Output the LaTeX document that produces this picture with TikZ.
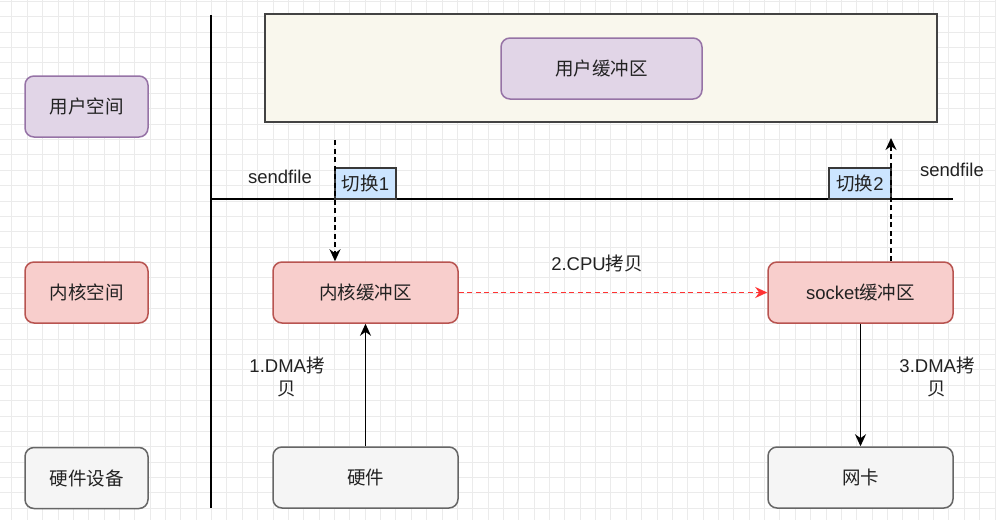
\documentclass[tikz,border=0pt]{standalone}
\usepackage{fontspec}
\setmainfont{Liberation Sans}
\newfontfamily\cjk{Noto Sans CJK SC}
\newcommand{\zh}[1]{{\cjk #1}}
\usetikzlibrary{arrows.meta}
\definecolor{gridc}{HTML}{EBEBEB}
\definecolor{txt}{HTML}{222222}
\definecolor{purf}{HTML}{E1D5E7}\definecolor{purd}{HTML}{9673A6}
\definecolor{redf}{HTML}{F8CECC}\definecolor{redd}{HTML}{B85450}
\definecolor{grf}{HTML}{F5F5F5}\definecolor{grd}{HTML}{666666}
\definecolor{cream}{HTML}{F9F7ED}
\definecolor{bluef}{HTML}{CCE5FF}
\definecolor{arrred}{HTML}{FF3333}
\tikzset{
  box/.style={rounded corners=9pt, line width=1.5pt, inner sep=0pt, minimum width=185pt, minimum height=61pt, text=txt, font=\fontsize{18.5}{22}\selectfont},
  purbox/.style={box, fill=purf, draw=purd},
  redbox/.style={box, fill=redf, draw=redd},
  grbox/.style={box, fill=grf, draw=grd},
  swbox/.style={line width=1.5pt, draw=txt!90, fill=bluef, inner sep=0pt, minimum width=61pt, minimum height=31pt, text=txt, font=\fontsize{18.5}{22}\selectfont},
  lbl/.style={text=txt, font=\fontsize{18.5}{23}\selectfont, align=center, inner sep=0pt},
  arr/.style={line width=1.7pt, -{Stealth[length=12pt,width=11pt]}},
  dsh/.style={dash pattern=on 5pt off 3.5pt},
}
\begin{document}
\begin{tikzpicture}[x=1pt,y=-1pt]
\useasboundingbox (0,0) rectangle (996,520);
\fill[white] (0,0) rectangle (996,520);
\foreach \i in {0,...,64} \draw[gridc, line width=0.9pt] (11.9+\i*15.36,0) -- (11.9+\i*15.36,520);
\foreach \j in {0,...,33} \draw[gridc, line width=0.9pt] (0,1.3+\j*15.36) -- (996,1.3+\j*15.36);
% axes
\draw[line width=1.8pt, black] (211,15) -- (211,508);
\draw[line width=1.8pt, black] (211,199) -- (953,199);
% big user box
\node[draw=txt!85, fill=cream, line width=1.5pt, minimum width=672pt, minimum height=108pt, inner sep=0pt] (big) at (601,68) {};
\node[purbox, minimum width=201pt] (ub) at (601.5,68.5) {\zh{用户缓冲区}};
% left labels
\node[purbox, minimum width=123pt] (us) at (86.5,106.5) {\zh{用户空间}};
\node[redbox, minimum width=123pt] (ks) at (86.5,292.5) {\zh{内核空间}};
\node[grbox, minimum width=123pt] (hd) at (86.5,478) {\zh{硬件设备}};
% kernel buffers
\node[redbox] (kb) at (365.5,292.5) {\zh{内核缓冲区}};
\node[redbox] (sb) at (860.5,292.5) {socket\zh{缓冲区}};
\node[grbox] (hw) at (365.5,477.5) {\zh{硬件}};
\node[grbox] (nc) at (860.5,477.5) {\zh{网卡}};
% switch boxes
\node[swbox] (sw1) at (365.5,183.5) {\zh{切换}1};
\node[swbox, minimum width=62pt] (sw2) at (860,183.5) {\zh{切换}2};
% texts
\node[lbl] (sf1) at (280,177) {sendfile};
\node[lbl] (sf2) at (952,170) {sendfile};
\node[lbl] (cpu) at (597,263) {2.CPU\zh{拷贝}};
\node[lbl] (dma1) at (287,377) {1.DMA\zh{拷}\\\zh{贝}};
\node[lbl] (dma3) at (937,377) {3.DMA\zh{拷}\\\zh{贝}};
% connectors
\coordinate (c1) at (335,140);
\coordinate (c2) at (891,138);
\draw[arr, dsh, black] (c1) -- (c1 |- kb.north);
\draw[arr, dsh, black] (c2 |- sb.north) -- (c2);
\draw[arr, dsh, arrred] (kb.east) -- (sb.west);
\draw[arr, black] (hw.north) -- (kb.south);
\draw[arr, black] (sb.south) -- (nc.north);
\end{tikzpicture}
\end{document}
